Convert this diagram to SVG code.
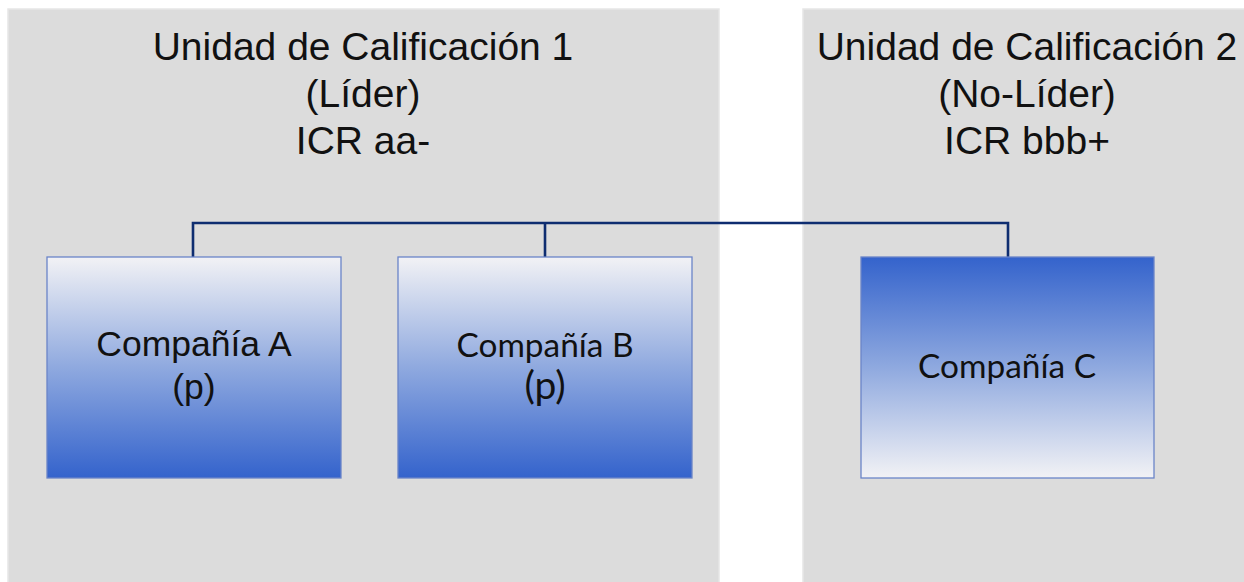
<svg xmlns="http://www.w3.org/2000/svg" width="1244" height="582" viewBox="0 0 1244 582">
  <defs>
    <linearGradient id="gDown" x1="0" y1="0" x2="0" y2="1">
      <stop offset="0" stop-color="#f2f2f5"/>
      <stop offset="0.5" stop-color="#8fa9df"/>
      <stop offset="1" stop-color="#3463cc"/>
    </linearGradient>
    <linearGradient id="gUp" x1="0" y1="1" x2="0" y2="0">
      <stop offset="0" stop-color="#f2f2f5"/>
      <stop offset="0.5" stop-color="#8fa9df"/>
      <stop offset="1" stop-color="#3463cc"/>
    </linearGradient>
    <style>
      .panel { fill: #dcdcdc; stroke: #e6e6e6; stroke-width: 1.5; }
      .title { font-family: "Liberation Sans", Arial, sans-serif; font-size: 39px; fill: #111111; text-anchor: middle; }
      .box { stroke: #6a84c8; stroke-width: 1.3; }
      .lbl { font-family: "Liberation Sans", Arial, sans-serif; font-size: 35.5px; fill: #111111; text-anchor: middle; }
      .lblc { font-family: Lato, "Open Sans", sans-serif; font-size: 32px; fill: #111111; text-anchor: middle; }
      .lblp { font-family: Lato, "Open Sans", sans-serif; font-size: 39px; fill: #111111; text-anchor: middle; }
      .conn { fill: none; stroke: #0e2d70; stroke-width: 2.6; }
    </style>
  </defs>

  <g id="panel1">
    <rect class="panel" x="8" y="9" width="711" height="580"/>
    <text class="title" x="363" y="60">Unidad de Calificación 1</text>
    <text class="title" x="363" y="107">(Líder)</text>
    <text class="title" x="363" y="154">ICR aa-</text>
  </g>

  <g id="panel2">
    <rect class="panel" x="803" y="9" width="460" height="580"/>
    <text class="title" x="1027" y="60">Unidad de Calificación 2</text>
    <text class="title" x="1027" y="107">(No-Líder)</text>
    <text class="title" x="1027" y="154">ICR bbb+</text>
  </g>

  <g id="connectors">
    <polyline class="conn" points="193,257 193,223 1008,223 1008,257"/>
    <line class="conn" x1="545" y1="223" x2="545" y2="257"/>
  </g>

  <g id="companiaA">
    <rect class="box" x="47" y="257" width="294" height="221" fill="url(#gDown)"/>
    <text class="lbl" x="194" y="356">Compañía A</text>
    <text class="lbl" x="194" y="399">(p)</text>
  </g>

  <g id="companiaB">
    <rect class="box" x="398" y="257" width="294" height="221" fill="url(#gDown)"/>
    <text class="lblc" x="545" y="357" textLength="177" lengthAdjust="spacingAndGlyphs">Compañía B</text>
    <text class="lblp" x="545" y="399">(p)</text>
  </g>

  <g id="companiaC">
    <rect class="box" x="861" y="257" width="293" height="221" fill="url(#gUp)"/>
    <text class="lblc" x="1007" y="378" textLength="178" lengthAdjust="spacingAndGlyphs">Compañía C</text>
  </g>
</svg>
